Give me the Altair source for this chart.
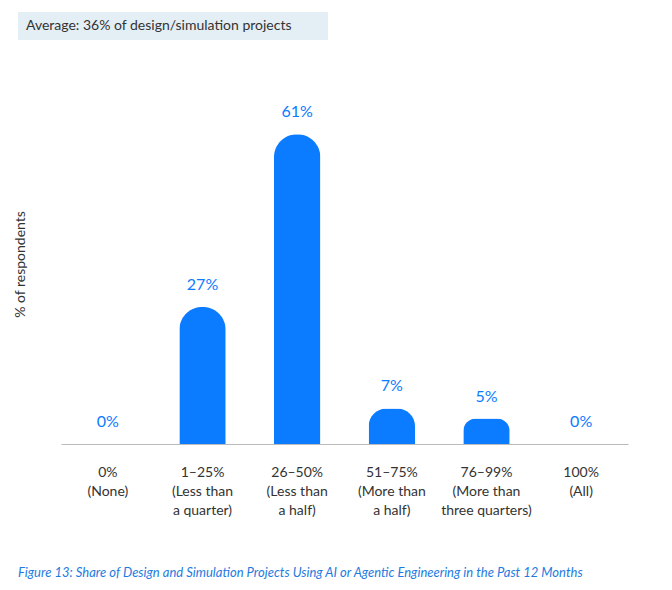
import altair as alt
import pandas as pd

categories = ["0%|(None)", "1–25%|(Less than|a quarter)", "26–50%|(Less than|a half)",
              "51–75%|(More than|a half)", "76–99%|(More than|three quarters)", "100%|(All)"]
shares = [0, 27, 61, 7, 5, 0]
header = "Average: 36% of design/simulation projects"
caption = "Figure 13: Share of Design and Simulation Projects Using AI or Agentic Engineering in the Past 12 Months"

BLUE = "#0B7BFF"
FONT = "Lato"

df = pd.DataFrame({"cat": categories, "share": shares})

x = alt.X("cat:N", sort=categories, title=None,
          scale=alt.Scale(paddingInner=0.51, paddingOuter=0.25),
          axis=alt.Axis(labelExpr="split(datum.label, '|')", labelAngle=0, ticks=False,
                        labelPadding=28, labelFontSize=14, labelColor="#333333",
                        labelFont=FONT, labelLineHeight=19, domainColor="#BBBBBB",
                        labelBaseline="middle"))
y = alt.Y("share:Q", scale=alt.Scale(domain=[0, 65]), title="% of respondents",
          axis=alt.Axis(labels=False, ticks=False, domain=False, grid=False,
                        titleFont=FONT, titleFontSize=14, titleFontWeight="normal",
                        titleColor="#333333", titleX=-34, titleY=150))

bars = alt.Chart(df).mark_bar(color=BLUE, cornerRadiusTopLeft=23, cornerRadiusTopRight=23).encode(x=x, y=y)
labels = alt.Chart(df).mark_text(color=BLUE, fontSize=16, font=FONT, dy=-22).encode(
    x=alt.X("cat:N", sort=categories), y="share:Q")
labels = labels.transform_calculate(lbl="datum.share + '%'").encode(text="lbl:N")

one = pd.DataFrame({"k": [0]})
box = alt.Chart(one).mark_rect(color="#E3EEF5").encode(
    x=alt.value(-43), x2=alt.value(267), y=alt.value(-102), y2=alt.value(-74))
head = alt.Chart(one).mark_text(align="left", baseline="middle", fontSize=14, font=FONT,
                                color="#333333", text=header).encode(x=alt.value(-35), y=alt.value(-88))
cap = alt.Chart(one).mark_text(align="left", baseline="middle", fontSize=13, font=FONT,
                               fontStyle="italic", color="#1E7BE0", text=caption).encode(
    x=alt.value(-43), y=alt.value(459))

chart = alt.layer(bars, labels, box, head, cap).properties(
    width=567, height=330,
    autosize=alt.AutoSizeParams(type="none"),
    padding={"left": 53, "top": 106, "right": 36, "bottom": 135},
).configure_view(stroke=None)

chart.save("out.html", embed_options={"renderer": "svg", "actions": False})
